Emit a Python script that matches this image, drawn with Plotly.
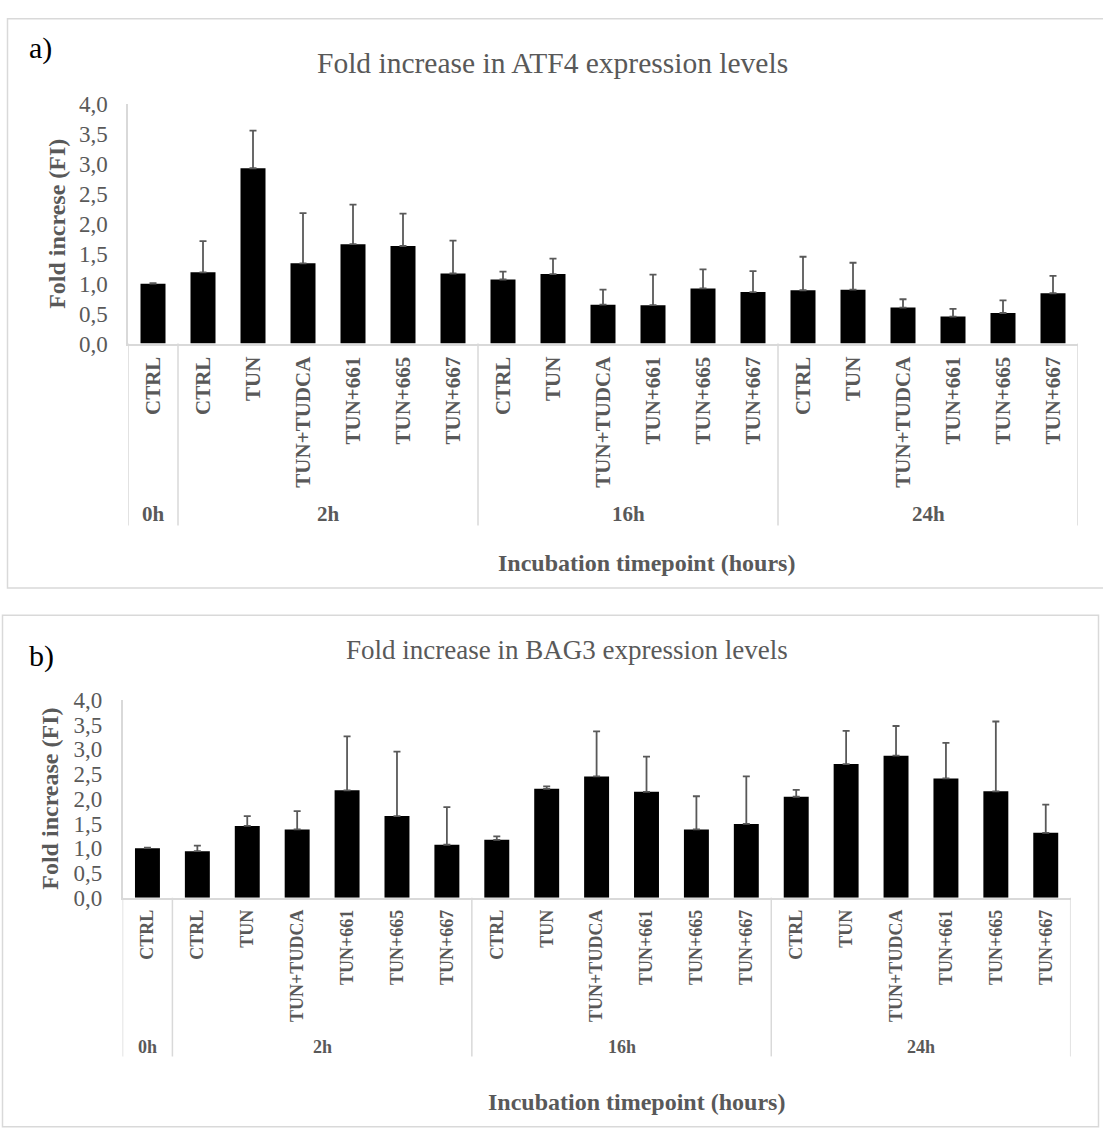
import plotly.graph_objects as go

W, H = 1103, 1131

# ---------------- data ----------------
groups = ["0h", "2h", "16h", "24h"]
group_sizes = [1, 6, 6, 6]
treatments = ["CTRL",
              "CTRL", "TUN", "TUN+TUDCA", "TUN+661", "TUN+665", "TUN+667",
              "CTRL", "TUN", "TUN+TUDCA", "TUN+661", "TUN+665", "TUN+667",
              "CTRL", "TUN", "TUN+TUDCA", "TUN+661", "TUN+665", "TUN+667"]

atf4_mean = [1.00, 1.19, 2.93, 1.34, 1.66, 1.63, 1.17,
             1.07, 1.16, 0.65, 0.64, 0.92, 0.86,
             0.89, 0.90, 0.60, 0.45, 0.51, 0.84]
atf4_err = [0.01, 0.52, 0.63, 0.84, 0.66, 0.54, 0.55,
            0.13, 0.26, 0.25, 0.51, 0.32, 0.35,
            0.56, 0.45, 0.14, 0.13, 0.21, 0.29]

bag3_mean = [1.00, 0.94, 1.45, 1.38, 2.17, 1.65, 1.07,
             1.17, 2.20, 2.45, 2.14, 1.38, 1.49,
             2.04, 2.70, 2.87, 2.41, 2.15, 1.31]
bag3_err = [0.01, 0.11, 0.20, 0.37, 1.09, 1.30, 0.76,
            0.07, 0.05, 0.91, 0.71, 0.67, 0.96,
            0.14, 0.67, 0.60, 0.72, 1.41, 0.57]

y_ticks = [0.0, 0.5, 1.0, 1.5, 2.0, 2.5, 3.0, 3.5, 4.0]

titles = ["Fold increase in ATF4 expression levels",
          "Fold increase in BAG3 expression levels"]
y_titles = ["Fold increse (FI)", "Fold increase (FI)"]
x_title = "Incubation timepoint (hours)"
panel_labels = ["a)", "b)"]

# ---------------- layout constants (pixels) ----------------
GRAY = "#595959"
LINE = "#d9d9d9"
FONT = "Liberation Serif"


def px(x):
    return x / W


def py(y):
    return 1 - y / H


panels = [
    dict(mean=atf4_mean, err=atf4_err, x0=128, x1=1078, ytop=94.3, ybot=339,
         div_bot=525, grp_y=513, grp_size=21, tick_size=21, ytick_size=23,
         title_x=552, title_y=52, title_size=29.5,
         ytitle_x=57, xtitle_x=646, xtitle_y=563,
         lab_x=40, lab_y=37, box=(7.5, 7, 1110, 589)),
    dict(mean=bag3_mean, err=bag3_err, x0=122.5, x1=1070.7, ytop=703.3, ybot=905.7,
         div_bot=1068, grp_y=1058, grp_size=18, tick_size=18, ytick_size=23,
         title_x=567, title_y=652, title_size=27,
         ytitle_x=50, xtitle_x=636, xtitle_y=1115,
         lab_x=41, lab_y=659, box=(2.5, 617, 1098.5, 1140)),
]

n = len(treatments)
xs = list(range(n))

fig = go.Figure()
shapes = []
annotations = []

# group boundaries in category units
bounds = [-0.5]
for s in group_sizes:
    bounds.append(bounds[-1] + s)
centers = [(bounds[i] + bounds[i + 1]) / 2 for i in range(len(group_sizes))]

for i, p in enumerate(panels):
    k = "" if i == 0 else str(i + 1)
    fig.add_trace(go.Bar(
        x=xs, y=p["mean"], width=0.5,
        marker=dict(color="black", line=dict(width=0)),
        error_y=dict(type="data", symmetric=False, array=p["err"],
                     arrayminus=[0] * n, color=GRAY, thickness=1.8, width=3.5),
        xaxis="x" + k, yaxis="y" + k, showlegend=False,
    ))
    xa = dict(domain=[px(p["x0"]), px(p["x1"])], range=[-0.5, n - 0.5],
              anchor="y" + k, tickmode="array", tickvals=xs, ticktext=treatments,
              tickangle=-90, ticks="", showline=True, linecolor=LINE, linewidth=1.5,
              showgrid=False, zeroline=False, ticklabelstandoff=3,
              tickfont=dict(family=FONT, size=p["tick_size"], color=GRAY, weight="bold"))
    ya = dict(domain=[py(p["ybot"]), py(p["ytop"])], range=[0, 4],
              anchor="x" + k, tickmode="array", tickvals=y_ticks, tickformat=".1f",
              ticks="", showline=True, linecolor=LINE, linewidth=1.5,
              showgrid=False, zeroline=False, ticklabelstandoff=14,
              tickfont=dict(family=FONT, size=p["ytick_size"], color=GRAY))
    fig.update_layout(**{"xaxis" + k: xa, "yaxis" + k: ya})

    # group dividers
    for b in bounds:
        shapes.append(dict(type="line", xref="x" + k, yref="paper", x0=b, x1=b,
                           y0=py(p["ybot"]), y1=py(p["div_bot"]),
                           line=dict(color=LINE, width=1.5)))
    # group labels
    for g, c in zip(groups, centers):
        annotations.append(dict(text=g, xref="x" + k, yref="paper", x=c, y=py(p["grp_y"]),
                                showarrow=False, xanchor="center", yanchor="middle",
                                font=dict(family=FONT, size=p["grp_size"], color=GRAY,
                                          weight="bold")))
    # titles
    annotations.append(dict(text=titles[i], xref="paper", yref="paper",
                            x=px(p["title_x"]), y=py(p["title_y"]), showarrow=False,
                            xanchor="center", yanchor="middle",
                            font=dict(family=FONT, size=p["title_size"], color=GRAY)))
    annotations.append(dict(text=y_titles[i], xref="paper", yref="paper",
                            x=px(p["ytitle_x"]), y=py((p["ytop"] + p["ybot"]) / 2),
                            showarrow=False, textangle=-90,
                            xanchor="center", yanchor="middle",
                            font=dict(family=FONT, size=24, color=GRAY, weight="bold")))
    annotations.append(dict(text=x_title, xref="paper", yref="paper",
                            x=px(p["xtitle_x"]), y=py(p["xtitle_y"]), showarrow=False,
                            xanchor="center", yanchor="middle",
                            font=dict(family=FONT, size=24, color=GRAY, weight="bold")))
    annotations.append(dict(text=panel_labels[i], xref="paper", yref="paper",
                            x=px(p["lab_x"]), y=py(p["lab_y"]), showarrow=False,
                            xanchor="center", yanchor="middle",
                            font=dict(family=FONT, size=30, color="black")))
    bx0, by0, bx1, by1 = p["box"]
    shapes.append(dict(type="rect", xref="paper", yref="paper",
                       x0=px(bx0), x1=px(bx1), y0=py(by1), y1=py(by0),
                       line=dict(color=LINE, width=1.5), layer="below"))

fig.update_layout(width=W, height=H, margin=dict(l=0, r=0, t=0, b=0),
                  paper_bgcolor="white", plot_bgcolor="white",
                  separators=",.", shapes=shapes, annotations=annotations,
                  showlegend=False, bargap=0.5)

fig.write_html("out.html")
